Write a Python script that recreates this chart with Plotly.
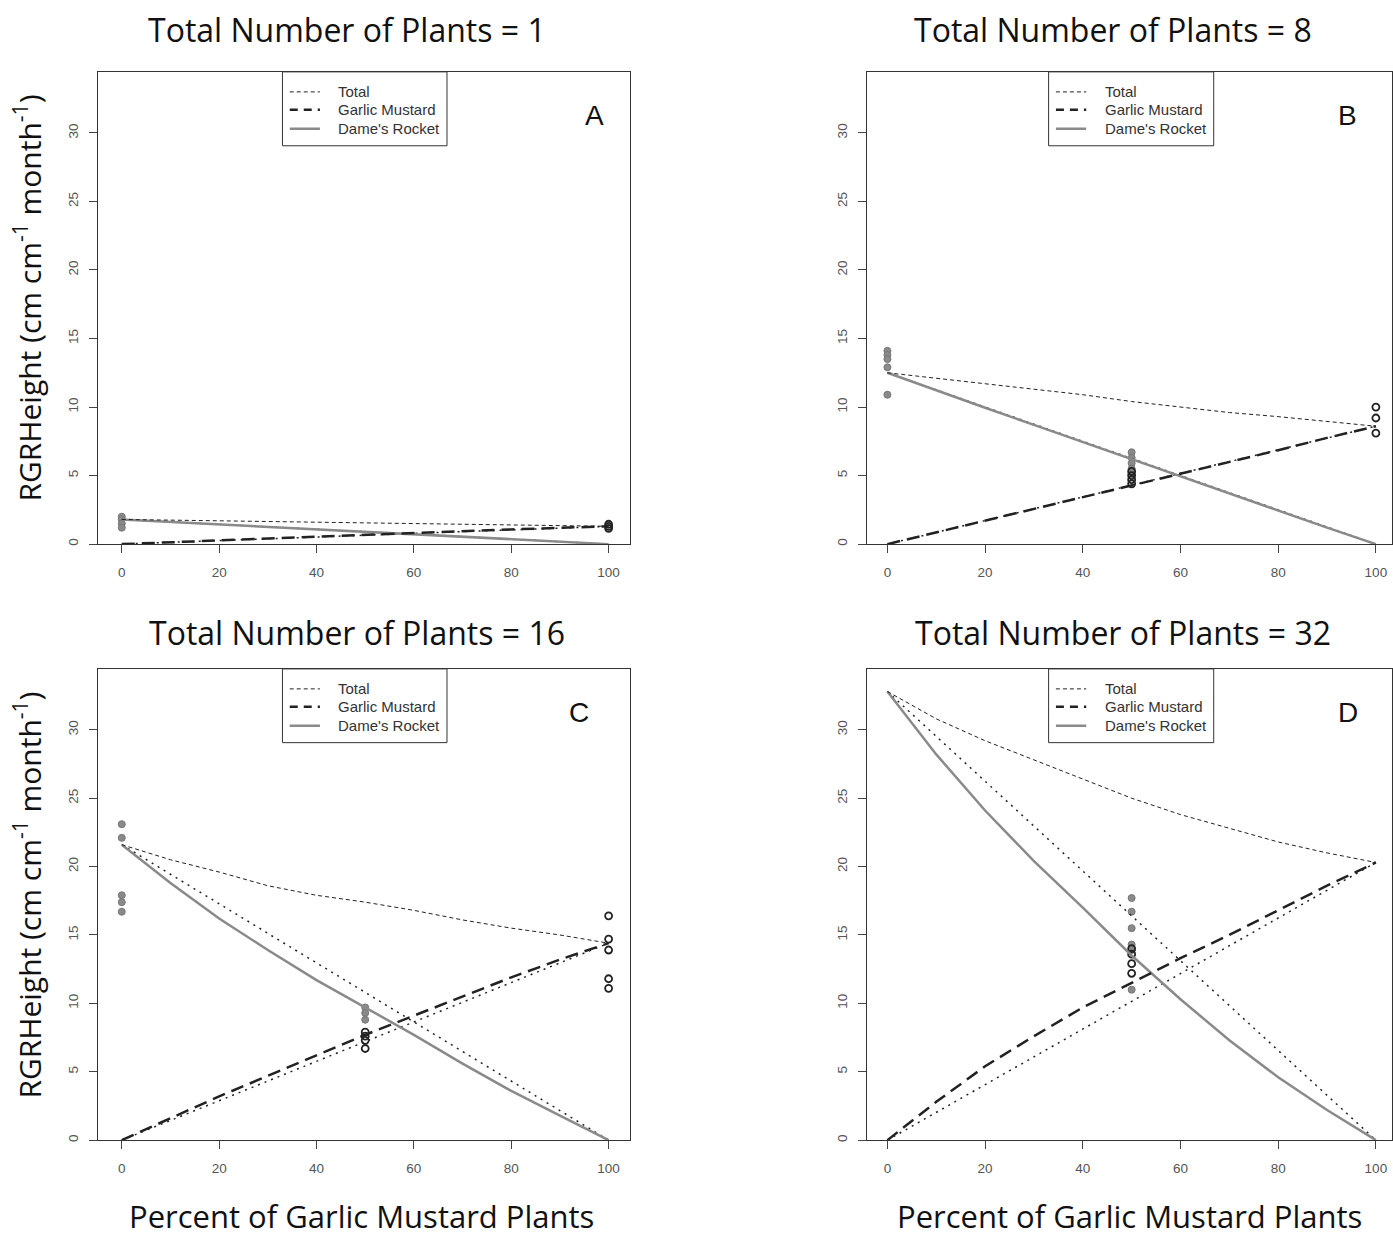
import plotly.graph_objects as go

# ---- data -------------------------------------------------------------
pct_grid = [0, 10, 20, 30, 40, 50, 60, 70, 80, 90, 100]
panel_titles = ["Total Number of Plants = 1", "Total Number of Plants = 8",
                "Total Number of Plants = 16", "Total Number of Plants = 32"]
panel_letters = ["A", "B", "C", "D"]

# fitted curves (RGR height) along the percent-garlic-mustard grid
total_A = [1.80, 1.75, 1.70, 1.65, 1.60, 1.55, 1.50, 1.45, 1.40, 1.35, 1.30]
gm_A = [0.00, 0.14, 0.28, 0.42, 0.56, 0.70, 0.83, 0.95, 1.07, 1.19, 1.30]
dr_A = [1.80, 1.62, 1.45, 1.28, 1.10, 0.90, 0.72, 0.54, 0.36, 0.18, 0.00]

total_B = [12.5, 12.1, 11.7, 11.3, 10.9, 10.4, 10.0, 9.6, 9.3, 8.95, 8.6]
gm_B = [0.0, 0.85, 1.7, 2.55, 3.4, 4.3, 5.1, 5.95, 6.85, 7.75, 8.6]
dr_B = [12.5, 11.2, 9.95, 8.7, 7.45, 6.15, 4.9, 3.65, 2.4, 1.2, 0.0]

total_C = [21.6, 20.5, 19.6, 18.6, 17.9, 17.4, 16.8, 16.1, 15.5, 15.0, 14.4]
gm_C = [0.0, 1.6, 3.2, 4.7, 6.2, 7.7, 9.1, 10.5, 11.9, 13.2, 14.4]
dr_C = [21.6, 18.8, 16.2, 13.9, 11.7, 9.7, 7.7, 5.6, 3.6, 1.8, 0.0]

total_D = [32.8, 30.8, 29.2, 27.8, 26.4, 25.0, 23.8, 22.8, 21.8, 21.0, 20.3]
gm_D = [0.0, 2.8, 5.4, 7.6, 9.7, 11.5, 13.3, 15.0, 16.8, 18.6, 20.3]
dr_D = [32.8, 28.2, 24.1, 20.4, 17.0, 13.5, 10.3, 7.3, 4.6, 2.2, 0.0]

# observed plants: Dame's Rocket (filled) and Garlic Mustard (open)
dr_at0 = [[2.0, 1.8, 1.5, 1.2], [14.1, 13.8, 13.5, 12.9, 10.9],
          [23.1, 22.1, 17.9, 17.4, 16.7], []]
dr_at50 = [[], [6.7, 6.3, 5.9, 5.5, 5.1], [9.7, 9.3, 8.8],
           [17.7, 16.7, 15.5, 14.3, 13.9, 11.0]]
gm_at50 = [[], [5.3, 5.0, 4.7, 4.4], [7.9, 7.6, 7.3, 6.7],
           [14.0, 13.6, 12.9, 12.2]]
gm_at100 = [[1.45, 1.3, 1.15], [10.0, 9.2, 8.1],
            [16.4, 14.7, 13.9, 11.8, 11.1], []]

totals = [total_A, total_B, total_C, total_D]
gms = [gm_A, gm_B, gm_C, gm_D]
drs = [dr_A, dr_B, dr_C, dr_D]

x_ticks = [0, 20, 40, 60, 80, 100]
y_ticks = [0, 5, 10, 15, 20, 25, 30]
x_title = "Percent of Garlic Mustard Plants"
y_title = "RGRHeight (cm cm<sup>-1</sup> month<sup>-1</sup>)"
legend_labels = ["Total", "Garlic Mustard", "Dame's Rocket"]

# ---- figure -----------------------------------------------------------
W, H = 1393, 1239
GREY = "#8a8a8a"
INK = "#222222"

fig = go.Figure()

def px_x(p):
    return p / W

def px_y(p):
    return 1 - p / H

domains = [
    ([px_x(98), px_x(630)], [px_y(545), px_y(72)]),
    ([px_x(868), 1.0], [px_y(545), px_y(72)]),
    ([px_x(98), px_x(630)], [px_y(1142), px_y(670)]),
    ([px_x(868), 1.0], [px_y(1142), px_y(670)]),
]
x_ranges = [[-4.9, 104.3], [-4.1, 103.3], [-4.9, 104.3], [-4.1, 103.3]]
y_range = [0, 34.45]
letter_x = [97.1, 94.1, 94.0, 94.3]

for i in range(4):
    xa = "x" if i == 0 else f"x{i+1}"
    ya = "y" if i == 0 else f"y{i+1}"

    # observed points
    fig.add_trace(go.Scatter(
        x=[0] * len(dr_at0[i]) + [50] * len(dr_at50[i]),
        y=dr_at0[i] + dr_at50[i], mode="markers", xaxis=xa, yaxis=ya,
        marker=dict(size=7, color=GREY, line=dict(width=1, color="#777777")),
        showlegend=False, hoverinfo="skip"))
    fig.add_trace(go.Scatter(
        x=[50] * len(gm_at50[i]) + [100] * len(gm_at100[i]),
        y=gm_at50[i] + gm_at100[i], mode="markers", xaxis=xa, yaxis=ya,
        marker=dict(size=7, color=INK, symbol="circle-open",
                    line=dict(width=1.8)),
        showlegend=False, hoverinfo="skip"))

    # straight-line expectations (dotted)
    fig.add_trace(go.Scatter(
        x=[pct_grid[0], pct_grid[-1]], y=[drs[i][0], 0], mode="lines",
        xaxis=xa, yaxis=ya, line=dict(color=INK, width=1.5, dash="2px,5px"),
        showlegend=False, hoverinfo="skip"))
    fig.add_trace(go.Scatter(
        x=[pct_grid[0], pct_grid[-1]], y=[0, gms[i][-1]], mode="lines",
        xaxis=xa, yaxis=ya, line=dict(color=INK, width=1.5, dash="2px,5px"),
        showlegend=False, hoverinfo="skip"))

    # fitted curves
    fig.add_trace(go.Scatter(
        x=pct_grid, y=drs[i], mode="lines", xaxis=xa, yaxis=ya,
        line=dict(color=GREY, width=2.5), showlegend=False, hoverinfo="skip"))
    fig.add_trace(go.Scatter(
        x=pct_grid, y=gms[i], mode="lines", xaxis=xa, yaxis=ya,
        line=dict(color=INK, width=2.5, dash="13px,7px"),
        showlegend=False, hoverinfo="skip"))
    fig.add_trace(go.Scatter(
        x=pct_grid, y=totals[i], mode="lines", xaxis=xa, yaxis=ya,
        line=dict(color=INK, width=1, dash="4px,3px"),
        showlegend=False, hoverinfo="skip"))

    # axes
    axis_common = dict(showline=True, mirror=True, linecolor="#333333",
                       linewidth=1, ticks="outside", ticklen=8,
                       tickcolor="#444444", showgrid=False, zeroline=False,
                       tickfont=dict(family="Liberation Sans", size=13.5,
                                     color="#555555"))
    fig.update_layout(**{
        ("xaxis" if i == 0 else f"xaxis{i+1}"): dict(
            domain=domains[i][0], range=x_ranges[i], tickvals=x_ticks,
            anchor=ya, ticklabelstandoff=8, **axis_common),
        ("yaxis" if i == 0 else f"yaxis{i+1}"): dict(
            domain=domains[i][1], range=y_range, tickvals=y_ticks,
            anchor=xa, tickangle=-90, ticklabelstandoff=6, **axis_common),
    })

    # panel legend
    fig.add_shape(type="rect", xref=xa, yref=ya, x0=33.0, x1=66.8,
                  y0=29.06, y1=y_range[1],
                  line=dict(color="#333333", width=1), fillcolor="white",
                  layer="above")
    rows = [32.99, 31.68, 30.30]
    styles = [dict(color=INK, width=1, dash="4px,3px"),
              dict(color=INK, width=2.5, dash="8px,6px"),
              dict(color=GREY, width=2.5)]
    for r, st, lab in zip(rows, styles, legend_labels):
        fig.add_shape(type="line", xref=xa, yref=ya, x0=34.5, x1=40.7,
                      y0=r, y1=r, line=st, layer="above")
        fig.add_annotation(x=44.1, y=r, xref=xa, yref=ya, text=lab,
                           showarrow=False, xanchor="left", yanchor="middle",
                           font=dict(family="Liberation Sans", size=15,
                                     color="#333333"))

    # panel letter
    fig.add_annotation(x=letter_x[i], y=31.3, xref=xa, yref=ya,
                       text=panel_letters[i], showarrow=False,
                       font=dict(family="Liberation Sans", size=28,
                                 color="#111111"))

# panel titles
title_pos = [(347, 30), (1114, 30), (357, 634), (1124, 634)]
for (tx, ty), t in zip(title_pos, panel_titles):
    fig.add_annotation(x=px_x(tx), y=px_y(ty), xref="paper", yref="paper",
                       text=t, showarrow=False, xanchor="center",
                       yanchor="middle",
                       font=dict(family="Open Sans", size=32, color="#111111"))

# x axis titles
for tx in (362, 1130):
    fig.add_annotation(x=px_x(tx), y=0, xref="paper", yref="paper",
                       text=x_title, showarrow=False, xanchor="center",
                       yanchor="bottom", yshift=-2,
                       font=dict(family="Open Sans", size=31, color="#111111"))

# y axis titles
for ty in (298, 896):
    fig.add_annotation(x=px_x(28), y=px_y(ty), xref="paper", yref="paper",
                       text=y_title, showarrow=False, textangle=-90,
                       xanchor="center", yanchor="middle",
                       font=dict(family="Open Sans", size=30, color="#111111"))

fig.update_layout(width=W, height=H, margin=dict(l=0, r=0, t=0, b=0),
                  paper_bgcolor="white", plot_bgcolor="white",
                  showlegend=False)

fig.write_html("out.html")
